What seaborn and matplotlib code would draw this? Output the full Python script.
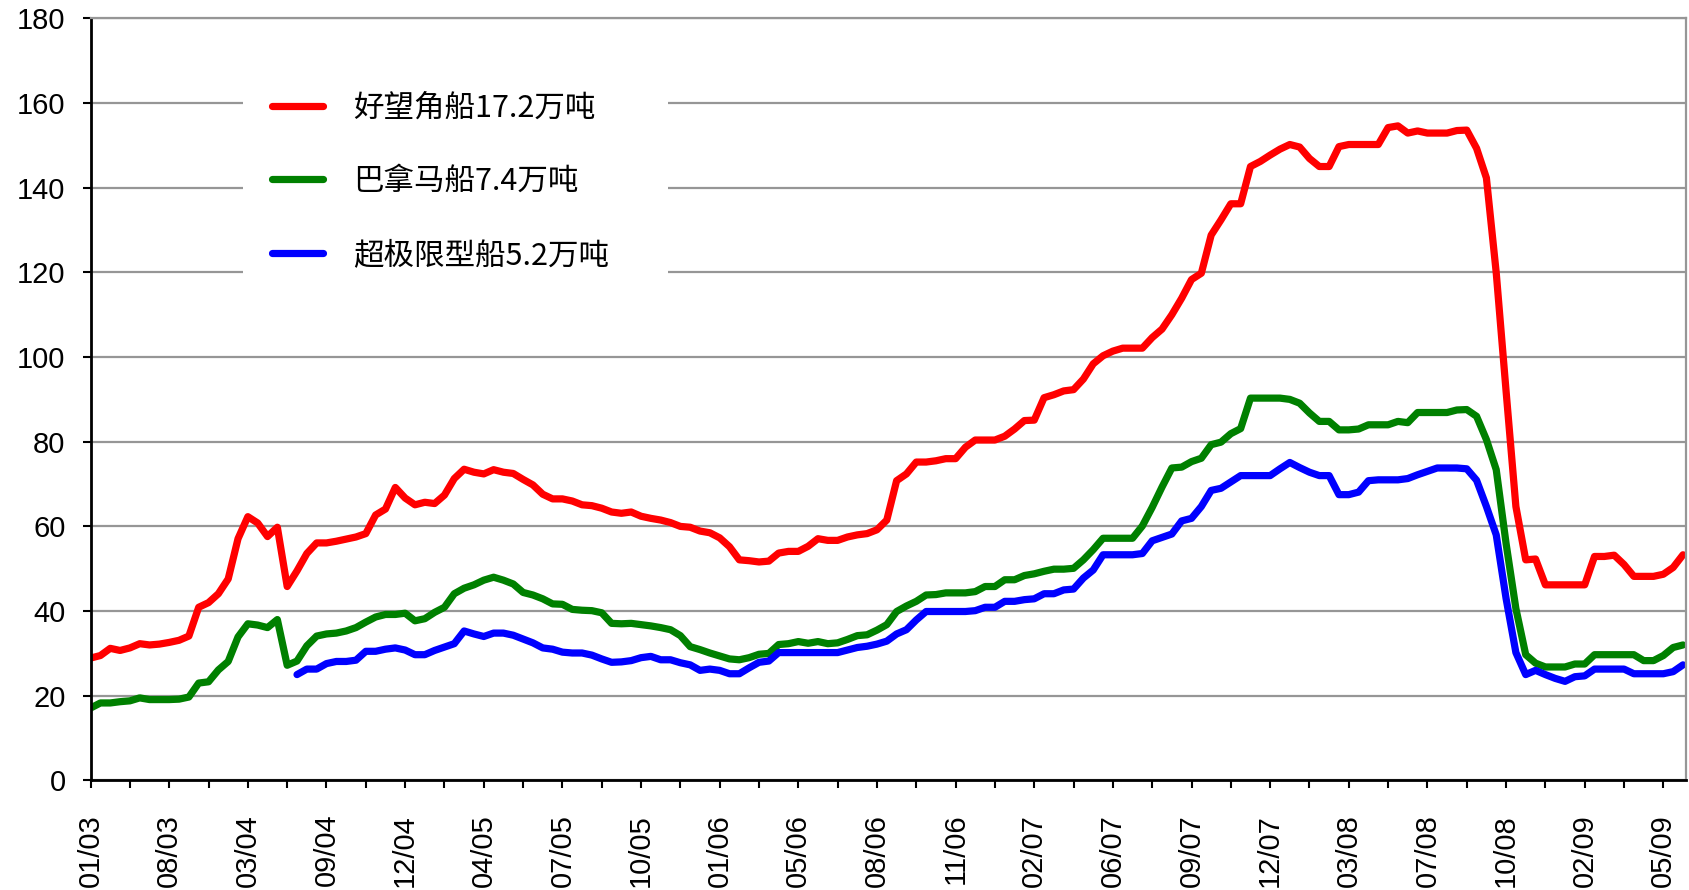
import numpy as np
import pandas as pd
import seaborn as sns
import matplotlib.pyplot as plt
from matplotlib.lines import Line2D

# x category labels, one every 8 data points
labels = ["01/03", "08/03", "03/04", "09/04", "12/04", "04/05", "07/05",
          "10/05", "01/06", "05/06", "08/06", "11/06", "02/07", "06/07",
          "09/07", "12/07", "03/08", "07/08", "10/08", "02/09", "05/09"]
per_label = 8

names = ["好望角船17.2万吨", "巴拿马船7.4万吨", "超极限型船5.2万吨"]
colors = ["#FF0000", "#008000", "#0000FF"]

# values
capesize = [28.9, 29.5, 31.2, 30.7, 31.3, 32.3, 32.0, 32.2, 32.6, 33.1,
            34.1, 40.9, 42.0, 44.1, 47.6, 57.1, 62.3, 60.8, 57.6, 59.8,
            45.8, 49.5, 53.6, 56.1, 56.1, 56.5, 57.0, 57.5, 58.3, 62.7,
            64.1, 69.2, 66.7, 65.1, 65.7, 65.4, 67.4, 71.3, 73.5, 72.8,
            72.4, 73.4, 72.8, 72.5, 71.1, 69.8, 67.6, 66.5, 66.5, 66.0,
            65.1, 64.9, 64.3, 63.4, 63.1, 63.4, 62.4, 61.9, 61.5, 60.9,
            60.0, 59.8, 58.9, 58.5, 57.3, 55.2, 52.1, 51.9, 51.6, 51.8,
            53.7, 54.1, 54.1, 55.3, 57.1, 56.7, 56.7, 57.5, 58.0, 58.3,
            59.2, 61.5, 70.8, 72.4, 75.2, 75.2, 75.5, 76.0, 76.0, 78.7,
            80.4, 80.4, 80.4, 81.3, 83.0, 85.0, 85.1, 90.4, 91.1, 92.0,
            92.3, 94.8, 98.4, 100.3, 101.4, 102.1, 102.1, 102.1, 104.6, 106.6,
            110.0, 113.9, 118.3, 119.8, 128.8, 132.4, 136.2, 136.2, 145.0, 146.2,
            147.7, 149.1, 150.2, 149.6, 146.9, 145.0, 145.0, 149.7, 150.2, 150.2,
            150.2, 150.2, 154.2, 154.6, 152.9, 153.4, 152.9, 152.9, 152.9, 153.5,
            153.6, 149.3, 142.3, 119.9, 92.0, 64.7, 52.1, 52.3, 46.2, 46.2,
            46.2, 46.2, 46.2, 52.9, 52.9, 53.2, 51.0, 48.2, 48.2, 48.2,
            48.7, 50.3, 53.3]

panamax = [17.1, 18.3, 18.3, 18.6, 18.8, 19.5, 19.1, 19.1, 19.1, 19.2,
           19.7, 23.0, 23.3, 26.1, 28.1, 33.9, 37.0, 36.7, 36.1, 38.0,
           27.2, 28.2, 31.8, 34.1, 34.6, 34.8, 35.3, 36.1, 37.4, 38.6,
           39.2, 39.2, 39.5, 37.7, 38.2, 39.7, 40.9, 44.1, 45.4, 46.2,
           47.3, 48.0, 47.3, 46.4, 44.4, 43.8, 42.9, 41.7, 41.6, 40.4,
           40.2, 40.1, 39.6, 37.1, 37.0, 37.1, 36.8, 36.5, 36.1, 35.6,
           34.2, 31.6, 30.9, 30.1, 29.4, 28.7, 28.5, 29.0, 29.8, 30.0,
           32.1, 32.3, 32.8, 32.4, 32.8, 32.3, 32.5, 33.3, 34.2, 34.4,
           35.5, 36.8, 39.9, 41.2, 42.3, 43.8, 43.9, 44.3, 44.3, 44.3,
           44.6, 45.8, 45.8, 47.4, 47.4, 48.4, 48.8, 49.4, 49.9, 49.9,
           50.1, 52.1, 54.5, 57.2, 57.2, 57.2, 57.2, 60.1, 64.5, 69.3,
           73.8, 74.0, 75.3, 76.1, 79.3, 79.9, 81.9, 83.1, 90.3, 90.3,
           90.3, 90.3, 90.0, 89.1, 86.8, 84.8, 84.8, 82.8, 82.8, 83.0,
           84.0, 84.0, 84.0, 84.8, 84.5, 86.9, 86.9, 86.9, 86.9, 87.5,
           87.6, 86.0, 80.5, 73.4, 56.0, 40.6, 29.7, 27.7, 26.8, 26.8,
           26.8, 27.5, 27.5, 29.7, 29.7, 29.7, 29.7, 29.7, 28.3, 28.3,
           29.5, 31.4, 32.0]

# supramax series starts later
supramax_start = 21
supramax = [25.0, 26.3, 26.3, 27.6, 28.1, 28.1, 28.4, 30.5, 30.5,
            31.0, 31.3, 30.8, 29.7, 29.7, 30.7, 31.5, 32.3, 35.3, 34.6,
            34.0, 34.8, 34.8, 34.3, 33.4, 32.5, 31.3, 31.0, 30.3, 30.1,
            30.1, 29.6, 28.7, 27.9, 28.0, 28.3, 29.0, 29.3, 28.5, 28.5,
            27.8, 27.3, 26.0, 26.3, 26.0, 25.2, 25.2, 26.6, 27.9, 28.2,
            30.2, 30.2, 30.2, 30.2, 30.2, 30.2, 30.2, 30.8, 31.4, 31.7,
            32.2, 32.9, 34.6, 35.6, 37.9, 39.9, 39.9, 39.9, 39.9, 39.9,
            40.1, 40.9, 40.9, 42.3, 42.3, 42.7, 42.9, 44.1, 44.1, 45.0,
            45.2, 47.8, 49.7, 53.3, 53.3, 53.3, 53.3, 53.6, 56.6, 57.4,
            58.2, 61.3, 61.9, 64.7, 68.5, 69.0, 70.5, 72.0, 72.0, 72.0,
            72.0, 73.6, 75.1, 73.9, 72.8, 72.0, 72.0, 67.5, 67.5, 68.1,
            70.8, 71.0, 71.0, 71.0, 71.3, 72.2, 73.0, 73.8, 73.8, 73.8,
            73.6, 70.9, 64.7, 58.0, 43.0, 30.2, 25.0, 26.0, 25.0, 24.1,
            23.4, 24.5, 24.7, 26.3, 26.3, 26.3, 26.3, 25.2, 25.2, 25.2,
            25.2, 25.7, 27.3]

n = len(capesize)
idx = np.arange(n)
supramax_full = [np.nan] * supramax_start + supramax

df = pd.DataFrame({
    "idx": np.tile(idx, 3),
    "value": capesize + panamax + supramax_full,
    "series": np.repeat(names, n),
})

sns.set_theme(style="white")
plt.rcParams["font.family"] = ["Liberation Sans", "DejaVu Sans"]
plt.rcParams["text.color"] = "black"
plt.rcParams["xtick.color"] = "black"
plt.rcParams["ytick.color"] = "black"

fig = plt.figure(figsize=(16.9, 8.9), dpi=100)
ax = fig.add_axes([0.0536, 0.1231, 0.9440, 0.8563])

sns.lineplot(data=df, x="idx", y="value", hue="series", hue_order=names,
             palette=colors, linewidth=5.2, estimator=None, sort=False,
             legend=False, ax=ax)
for ln in ax.get_lines():
    ln.set_solid_joinstyle("round")
    ln.set_solid_capstyle("round")

ax.set_xlim(0, n - 0.7)
ax.set_ylim(0, 180)
ax.set_yticks(range(0, 181, 20))
ax.set_xticks(np.arange(len(labels)) * per_label)
ax.set_xticklabels(labels, rotation=90)
ax.set_xticks(np.arange(len(labels) - 1) * per_label + per_label // 2, minor=True)
ax.set_xlabel("")
ax.set_ylabel("")

ax.yaxis.grid(True, color="#969696", linewidth=1.6)
ax.xaxis.grid(False)
ax.set_axisbelow(True)

for side in ["left", "bottom"]:
    ax.spines[side].set_color("black")
    ax.spines[side].set_linewidth(2)
for side in ["top", "right"]:
    ax.spines[side].set_color("#969696")
    ax.spines[side].set_linewidth(1.6)

ax.tick_params(axis="both", which="both", direction="out", length=6,
               width=1.5, color="black", labelsize=21)
ax.tick_params(axis="x", which="both", bottom=True, pad=18)
ax.tick_params(axis="y", left=True, pad=12)

handles = [Line2D([0], [0], color=c, lw=5.2, solid_capstyle="round") for c in colors]
ax.legend(handles, names, loc="upper left",
          bbox_to_anchor=(0.1435, 0.929, 0.2518, 0.0),
          bbox_transform=fig.transFigure, mode="expand", borderaxespad=0,
          frameon=True, fancybox=False, facecolor="white", edgecolor="none",
          framealpha=1, prop={"family": ["Noto Sans CJK SC", "DejaVu Sans"], "size": 22},
          handlelength=1.7, handletextpad=0.98, labelspacing=1.40, borderpad=0.95)

fig.savefig("out.png", dpi=100)
